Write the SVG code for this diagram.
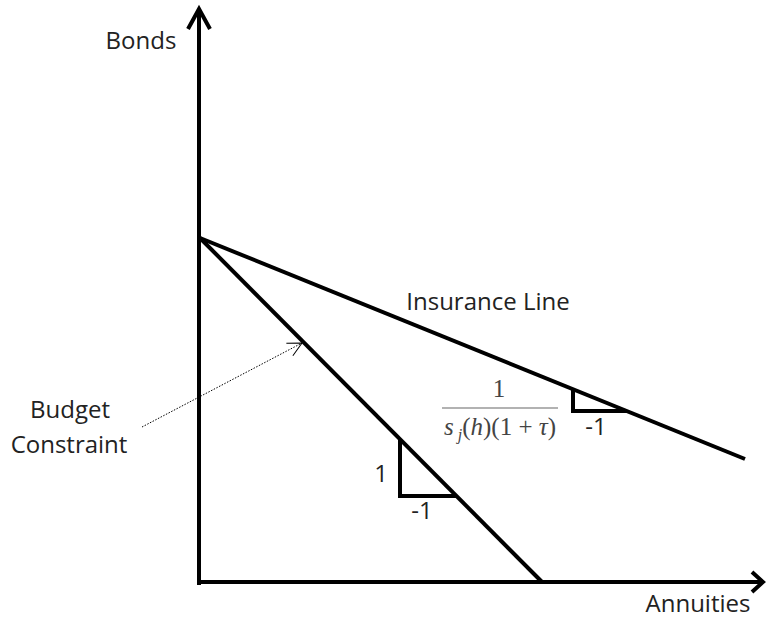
<svg xmlns="http://www.w3.org/2000/svg" width="766" height="620" viewBox="0 0 766 620">
<style>
.ln{stroke:#000;stroke-width:4;fill:none;stroke-linecap:butt;stroke-linejoin:miter}
.lbl{font-family:"Open Sans","Liberation Sans",sans-serif;font-size:24px;fill:#222}
.math{font-family:"Liberation Serif",serif;font-size:25px;fill:#444}
</style>
<defs>
<marker id="dotArrow" markerWidth="16" markerHeight="16" refX="15" refY="8" orient="auto" markerUnits="userSpaceOnUse">
<path d="M1,1 L15,8 L1,15" fill="none" stroke="#000" stroke-width="1"/>
</marker>
</defs>
<rect width="766" height="620" fill="#fff"/>
<g id="axes">
<path class="ln" d="M199,585 L199,9"/>
<path class="ln" d="M188,29 L199,9 L210,29"/>
<path class="ln" d="M197,582 L763,582"/>
<path class="ln" d="M752,572 L763,582 L752,592"/>
</g>
<g id="budget-line">
<path class="ln" d="M200,238 L542,582"/>
<path class="ln" d="M400,440 L400,496 L456,496"/>
<text class="lbl" x="381" y="482" text-anchor="middle">1</text>
<text class="lbl" x="422" y="519" text-anchor="middle">-1</text>
</g>
<g id="insurance-line">
<path class="ln" d="M200,238 L745,459"/>
<path class="ln" d="M573,389 L573,411 L627,411"/>
<text class="lbl" x="596" y="435" text-anchor="middle">-1</text>
<text class="lbl" x="488" y="310" text-anchor="middle">Insurance Line</text>
</g>
<g id="slope-label">
<text class="math" x="499" y="397" text-anchor="middle">1</text>
<line x1="442" y1="408" x2="558" y2="408" stroke="#666" stroke-width="1.2"/>
<text class="math" x="444" y="435" textLength="112" lengthAdjust="spacing"><tspan font-style="italic">s</tspan><tspan font-style="italic" font-size="16" dy="5"> j</tspan><tspan dy="-5">(</tspan><tspan font-style="italic">h</tspan><tspan>)(1 + </tspan><tspan font-style="italic">τ</tspan><tspan>)</tspan></text>
</g>
<g id="budget-label">
<text class="lbl" x="70" y="418" text-anchor="middle">Budget</text>
<text class="lbl" x="69" y="453" text-anchor="middle">Constraint</text>
</g>
<g id="connectors">
<path d="M142,427 L302,343" stroke="#000" stroke-width="1" stroke-dasharray="1.5,1.5" fill="none" marker-end="url(#dotArrow)"/>
</g>
<g id="axis-labels">
<text class="lbl" x="141" y="49" text-anchor="middle">Bonds</text>
<text class="lbl" x="698" y="612" text-anchor="middle">Annuities</text>
</g>
</svg>
